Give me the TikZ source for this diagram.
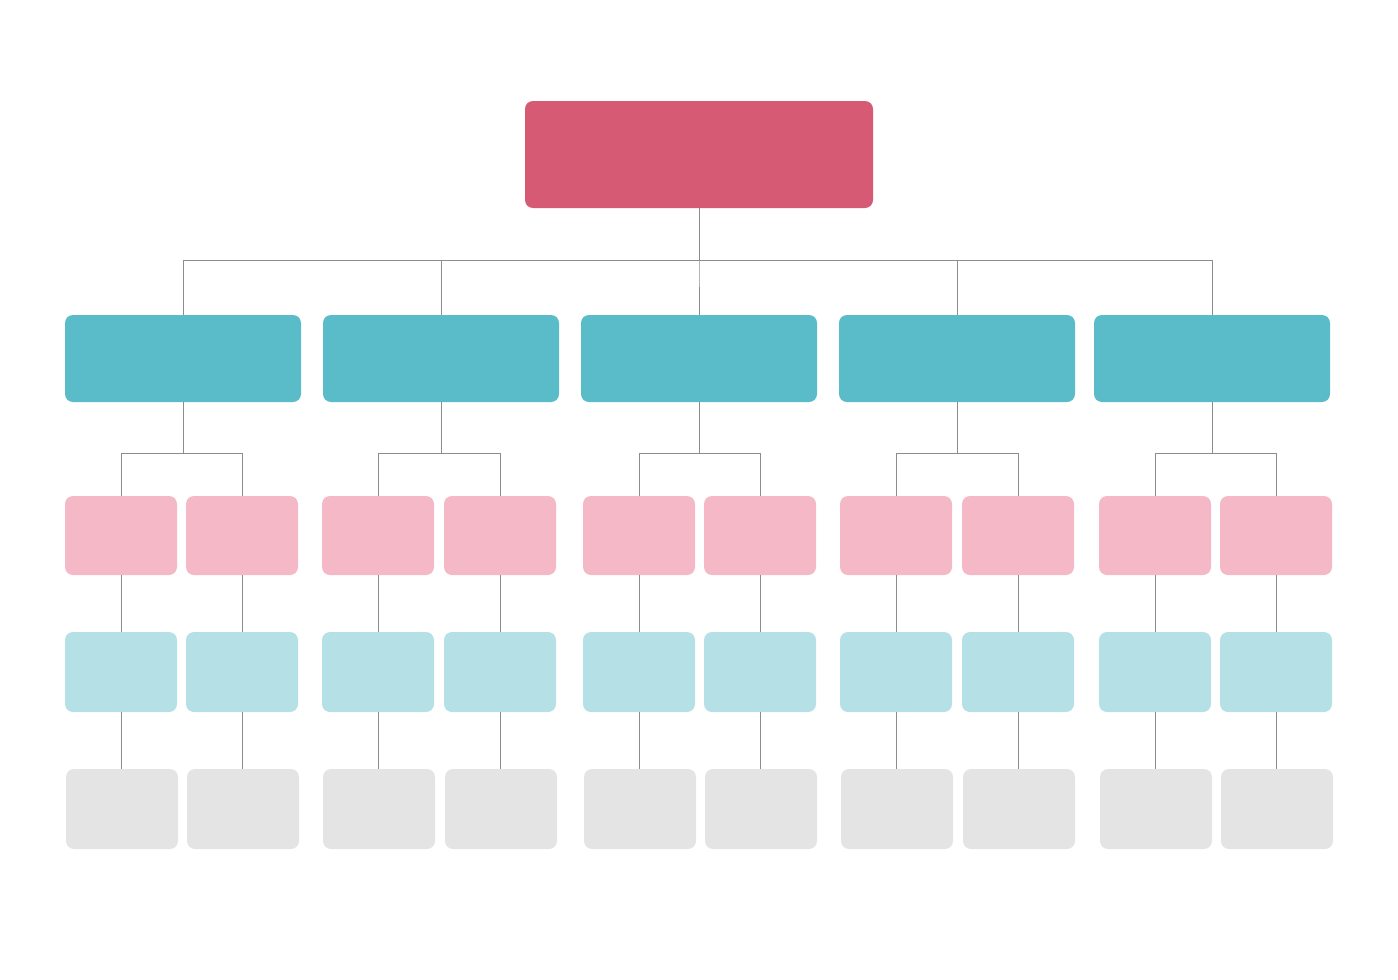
\documentclass[tikz,border=0pt]{standalone}
\definecolor{cRoot}{HTML}{D75A75}
\definecolor{cMid}{HTML}{59BCC8}
\definecolor{cPink}{HTML}{F5B8C6}
\definecolor{cLblue}{HTML}{B5E0E5}
\definecolor{cGray}{HTML}{E4E4E4}
\definecolor{cLine}{HTML}{8C8C8C}
\tikzset{
 box/.style={rounded corners=8pt,inner sep=0pt,outer sep=0pt},
 conn/.style={draw=cLine,line width=1pt}
}
\begin{document}
\begin{tikzpicture}[x=1pt,y=-1pt]
\useasboundingbox (0,0) rectangle (1398,980);
\node[box,fill=cRoot,minimum width=348pt,minimum height=107pt] (root) at (699,154.5) {};
\foreach \i/\cx in {1/183,2/441,3/699,4/957,5/1212}{
  \node[box,fill=cMid,minimum width=236pt,minimum height=87pt] (m\i) at (\cx,358.5) {};
  \draw[conn] (root.south) |- (\cx,260) -- (m\i.north);
}
\foreach \i/\a/\b in {1/121/242,2/378/500,3/639/760,4/896/1018,5/1155/1276}{
  \foreach \j/\x in {a/\a,b/\b}{
    \node[box,fill=cPink,minimum width=112pt,minimum height=79pt] (p\i\j) at (\x,535.5) {};
    \node[box,fill=cLblue,minimum width=112pt,minimum height=80pt] (l\i\j) at (\x,672) {};
    \node[box,fill=cGray,minimum width=112pt,minimum height=80pt] (g\i\j) at (\x+1,809) {};
    \draw[conn] (p\i\j.south) -- (l\i\j.north);
    \draw[conn] (l\i\j.south) -- (l\i\j.south |- g\i\j.north);
  }
  \draw[conn] (m\i.south) -- (m\i.south |- 0,453);
  \draw[conn] (p\i a.north) -- (p\i a.north |- 0,453) -- (p\i b.north |- 0,453) -- (p\i b.north);
}
\end{tikzpicture}
\end{document}
